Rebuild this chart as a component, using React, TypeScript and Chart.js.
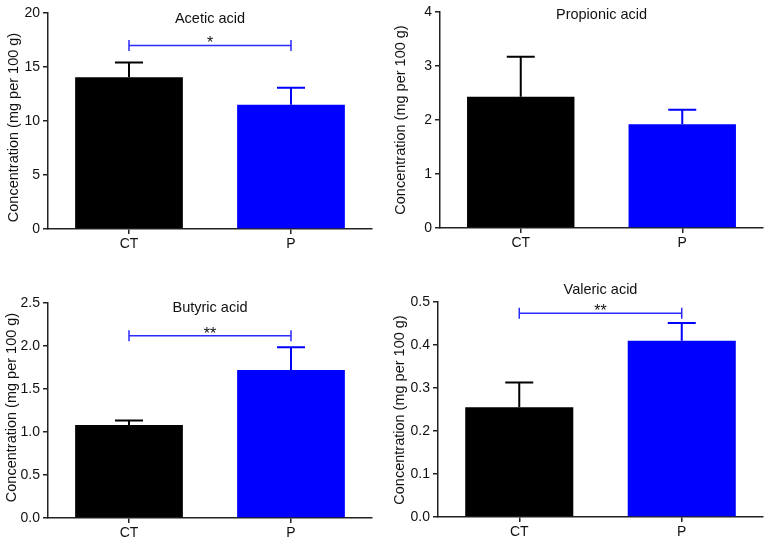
import React, { useEffect, useRef } from 'react';
import { Chart, registerables } from 'chart.js';

Chart.register(...registerables);

// ---- data ----
const categories = ['CT', 'P'];
const panelTitles = ['Acetic acid', 'Propionic acid', 'Butyric acid', 'Valeric acid'];
const yAxisTitle = 'Concentration (mg per 100 g)';

const aceticMean = [14.05, 11.5];
const aceticErr = [1.37, 1.57];
const propionicMean = [2.43, 1.92];
const propionicErr = [0.74, 0.27];
const butyricMean = [1.08, 1.72];
const butyricErr = [0.055, 0.265];
const valericMean = [0.255, 0.41];
const valericErr = [0.058, 0.041];

const yMaxValues = [20, 4, 2.5, 0.5];
const yStepValues = [5, 1, 0.5, 0.1];
const tickDecimals = [0, 0, 1, 1];
const sigLabels = ['*', '', '**', '**'];
const sigHeights: (number | null)[] = [17, null, 2.12, 0.474];

const means = [aceticMean, propionicMean, butyricMean, valericMean];
const errs = [aceticErr, propionicErr, butyricErr, valericErr];

// ---- style / layout ----
const barColors = ['#000000', '#0000ff'];
const bracketColor = '#2b2bff';
const axisColor = '#222222';
const FONT = '"Liberation Sans", Arial, Helvetica, sans-serif';

type Box = {
  left: number; top: number; w: number; h: number;
  pl: number; pt: number; pb: number; pr: number;
  titleBase: number; yTitleX: number; yTitleY: number;
};

const boxes: Box[] = [
  { left: 0, top: 0, w: 383, h: 265, pl: 48, pt: 13, pb: 229, pr: 372, titleBase: 23, yTitleX: 14, yTitleY: 127.5 },
  { left: 383, top: 0, w: 384, h: 265, pl: 57, pt: 12, pb: 228, pr: 380, titleBase: 19, yTitleX: 18, yTitleY: 120 },
  { left: 0, top: 270, w: 383, h: 272, pl: 48, pt: 33, pb: 248, pr: 372, titleBase: 42, yTitleX: 12, yTitleY: 137.5 },
  { left: 383, top: 270, w: 384, h: 272, pl: 55, pt: 32, pb: 247, pr: 380, titleBase: 24, yTitleX: 17, yTitleY: 140 },
];

function Panel({ idx }: { idx: number }) {
  const ref = useRef<HTMLCanvasElement>(null);
  const b = boxes[idx];

  useEffect(() => {
    if (!ref.current) return;
    const m = means[idx];
    const e = errs[idx];

    const decor = {
      id: 'decor' + idx,
      afterDatasetsDraw(chart: any) {
        const ctx = chart.ctx as CanvasRenderingContext2D;
        const meta = chart.getDatasetMeta(0);
        const ys = chart.scales.y;
        const area = chart.chartArea;
        ctx.save();
        // error bars
        m.forEach((v, i) => {
          const x = meta.data[i].x;
          const y0 = ys.getPixelForValue(v);
          const y1 = ys.getPixelForValue(v + e[i]);
          ctx.strokeStyle = barColors[i];
          ctx.lineWidth = 2;
          ctx.beginPath();
          ctx.moveTo(x, y0);
          ctx.lineTo(x, y1);
          ctx.moveTo(x - 14, y1);
          ctx.lineTo(x + 14, y1);
          ctx.stroke();
        });
        // significance bracket
        const sh = sigHeights[idx];
        if (sh !== null) {
          const x0 = meta.data[0].x;
          const x1 = meta.data[1].x;
          const yb = ys.getPixelForValue(sh);
          ctx.strokeStyle = bracketColor;
          ctx.lineWidth = 1.5;
          ctx.beginPath();
          ctx.moveTo(x0, yb);
          ctx.lineTo(x1, yb);
          ctx.moveTo(x0, yb - 5.5);
          ctx.lineTo(x0, yb + 5.5);
          ctx.moveTo(x1, yb - 5.5);
          ctx.lineTo(x1, yb + 5.5);
          ctx.stroke();
          ctx.fillStyle = '#111';
          ctx.font = `16px ${FONT}`;
          ctx.textAlign = 'center';
          ctx.textBaseline = 'alphabetic';
          ctx.fillText(sigLabels[idx], (x0 + x1) / 2, yb + 3);
        }
        // panel title
        ctx.fillStyle = '#111';
        ctx.font = `14.5px ${FONT}`;
        ctx.textAlign = 'center';
        ctx.textBaseline = 'alphabetic';
        ctx.fillText(panelTitles[idx], (area.left + area.right) / 2, b.titleBase);
        // y axis title
        ctx.translate(b.yTitleX, b.yTitleY);
        ctx.rotate(-Math.PI / 2);
        ctx.font = `14.5px ${FONT}`;
        ctx.textBaseline = 'middle';
        ctx.fillText(yAxisTitle, 0, 0);
        ctx.restore();
      },
    };

    const chart = new Chart(ref.current, {
      type: 'bar',
      data: {
        labels: categories,
        datasets: [
          {
            data: m,
            backgroundColor: barColors,
            borderWidth: 0,
            barPercentage: 0.665,
            categoryPercentage: 1,
          },
        ],
      },
      options: {
        responsive: false,
        animation: false,
        devicePixelRatio: 1,
        layout: { padding: { left: 0, top: b.pt, right: b.w - b.pr, bottom: 0 } },
        plugins: { legend: { display: false }, tooltip: { enabled: false }, title: { display: false } },
        scales: {
          x: {
            offset: true,
            grid: { display: true, drawOnChartArea: false, drawTicks: true, tickLength: 5, offset: false, color: axisColor, lineWidth: 1.5 },
            border: { display: true, color: axisColor, width: 1.5 },
            ticks: { color: '#111', font: { family: FONT, size: 14 }, padding: 2 },
            afterFit: (s: any) => { s.height = b.h - b.pb; },
          },
          y: {
            min: 0,
            max: yMaxValues[idx],
            grid: { display: true, drawOnChartArea: false, drawTicks: true, tickLength: 5, color: axisColor, lineWidth: 1.5 },
            border: { display: true, color: axisColor, width: 1.5 },
            ticks: {
              stepSize: yStepValues[idx],
              color: '#111',
              font: { family: FONT, size: 14 },
              padding: 3,
              callback: (v: any) => Number(v).toFixed(tickDecimals[idx]),
            },
            afterFit: (s: any) => { s.width = b.pl; },
          },
        },
      },
      plugins: [decor],
    } as any);
    return () => chart.destroy();
  }, [idx]);

  return (
    <canvas
      ref={ref}
      width={b.w}
      height={b.h}
      style={{ position: 'absolute', left: b.left, top: b.top, width: b.w, height: b.h }}
    />
  );
}

export default function App() {
  return (
    <div style={{ position: 'fixed', left: 0, top: 0, width: 767, height: 542, background: '#fff', overflow: 'hidden' }}>
      {[0, 1, 2, 3].map((i) => (
        <Panel key={i} idx={i} />
      ))}
    </div>
  );
}
